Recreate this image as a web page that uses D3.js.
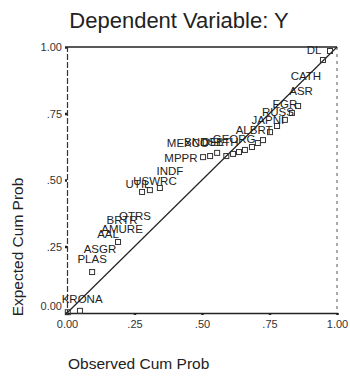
<!DOCTYPE html>
<html><head><meta charset="utf-8">
<script src="https://cdn.jsdelivr.net/npm/d3@7/dist/d3.min.js"></script>
<style>body{margin:0;background:#fff}svg{display:block}</style>
</head><body>
<svg id="c" width="350" height="376"></svg>
<script>
const titleText = "Dependent Variable: Y";
const xLabelText = "Observed Cum Prob";
const yLabelText = "Expected Cum Prob";
const tickValues = [0, 0.25, 0.5, 0.75, 1];
const tickLabels = ["0.00", ".25", ".50", ".75", "1.00"];

// unlabeled cases (open squares)
const squareObs = [0.003,0.048,0.093,0.189,0.278,0.307,0.344,0.504,0.530,0.556,0.590,0.615,0.637,0.659,0.685,0.707,0.726,0.752,0.778,0.807,0.833,0.856,0.948,0.974];
const squareExp = [0.003,0.008,0.154,0.267,0.455,0.462,0.470,0.586,0.590,0.602,0.590,0.598,0.605,0.613,0.624,0.639,0.650,0.680,0.703,0.726,0.752,0.778,0.951,0.985];

// labeled cases
const caseLabels = ["KRONA","PLAS","ASGR","AAL","AMURE","BRTR","QTRS","UTIL","USWRC","INDF","MPPR","MEXCO","BNDSB","DELTH","GEORG","ALBRT","JAPNI","RUSS","EGR","ASR","CATH","DL"];
const caseObs = [0.056,0.093,0.122,0.152,0.204,0.204,0.252,0.263,0.326,0.381,0.422,0.448,0.507,0.567,0.619,0.693,0.744,0.781,0.807,0.867,0.885,0.915];
const caseExp = [0.053,0.203,0.241,0.297,0.316,0.350,0.365,0.485,0.496,0.534,0.583,0.639,0.643,0.643,0.654,0.688,0.726,0.756,0.786,0.835,0.891,0.989];

const svg = d3.select("#c");
const x = d3.scaleLinear().domain([0,1]).range([67,337]);
const y = d3.scaleLinear().domain([0,1]).range([313,47]);
const ink = "#222";
const font = "Liberation Sans, Arial, sans-serif";

svg.append("text").attr("x",179).attr("y",28).attr("text-anchor","middle")
  .attr("font-family",font).attr("font-size",22).attr("fill",ink).text(titleText);

// frame
svg.append("line").attr("x1",x(0)).attr("x2",x(1)).attr("y1",y(1)).attr("y2",y(1)).attr("stroke",ink).attr("stroke-width",1.5);
svg.append("line").attr("x1",x(1)).attr("x2",x(1)).attr("y1",y(1)).attr("y2",y(0)).attr("stroke","#555").attr("stroke-width",1).attr("stroke-dasharray","3,4");

// axes
const xAxis = d3.axisBottom(x).tickValues(tickValues).tickFormat((d,i)=>tickLabels[i]).tickSize(2).tickPadding(5);
const yAxis = d3.axisLeft(y).tickValues(tickValues).tickFormat((d,i)=>tickLabels[i]).tickSize(2).tickPadding(3);
const gx = svg.append("g").attr("transform",`translate(0,${y(0)})`).call(xAxis);
const gy = svg.append("g").attr("transform",`translate(${x(0)},0)`).call(yAxis);
gx.select(".domain").attr("stroke",ink).attr("stroke-width",1.3);
gy.select(".domain").attr("stroke","#333").attr("stroke-width",1.2).attr("stroke-dasharray","6,2");
[gx,gy].forEach(g=>{
  g.selectAll(".tick line").attr("stroke",ink).attr("stroke-width",2.5);
  g.selectAll(".tick text").attr("font-family",font).attr("font-size",11).attr("fill","#333");
});
gy.selectAll(".tick").filter(d=>d===0).select("text").attr("dy","-0.3em");

// diagonal reference
svg.append("line").attr("x1",x(0)).attr("y1",y(0)).attr("x2",x(1)).attr("y2",y(1)).attr("stroke",ink).attr("stroke-width",1.2);

// squares
const sq = squareObs.map((v,i)=>({o:v,e:squareExp[i]}));
svg.append("g").selectAll("rect").data(sq).join("rect")
  .attr("x",d=>x(d.o)-2.5).attr("y",d=>y(d.e)-2.5).attr("width",5).attr("height",5)
  .attr("fill","none").attr("stroke","#333").attr("stroke-width",1);

// labels
const lab = caseLabels.map((l,i)=>({l,o:caseObs[i],e:caseExp[i]}));
svg.append("g").selectAll("text").data(lab).join("text")
  .attr("x",d=>x(d.o)).attr("y",d=>y(d.e)).attr("dy","0.35em").attr("text-anchor","middle")
  .attr("font-family",font).attr("font-size",11.5).attr("fill",ink)
  .text(d=>d.l);

// axis titles
svg.append("text").attr("x",68).attr("y",369)
  .attr("font-family",font).attr("font-size",15.5).attr("fill",ink).text(xLabelText);
svg.append("text").attr("transform","translate(23,247) rotate(-90)").attr("text-anchor","middle")
  .attr("font-family",font).attr("font-size",15.5).attr("fill",ink).text(yLabelText);
</script>
</body></html>
